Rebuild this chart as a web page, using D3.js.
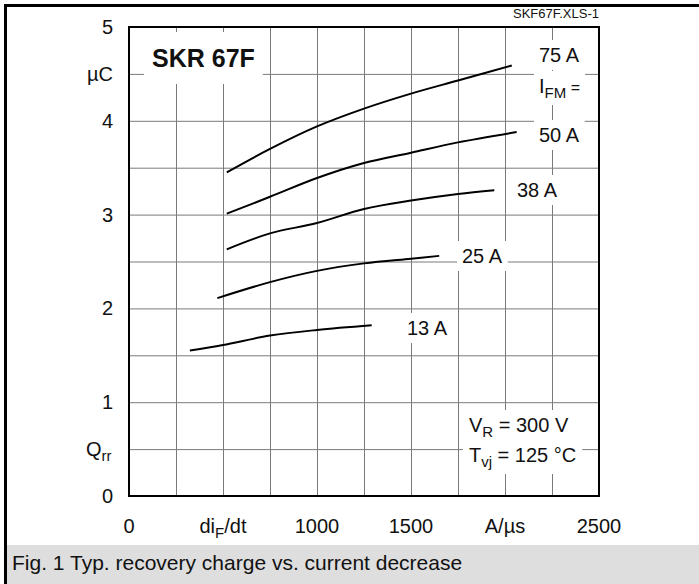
<!DOCTYPE html>
<html>
<head>
<meta charset="utf-8">
<script src="https://cdn.jsdelivr.net/npm/d3@7"></script>
<style>
  body { margin: 0; background: #fff; }
  text { font-family: "Liberation Sans", Arial, sans-serif; fill: #111; }
</style>
</head>
<body>
<div id="chart"></div>
<script>
// ---- data (x in A/us, y in uC) ----
var seriesNames = ["75 A", "50 A", "38 A", "25 A", "13 A"];
var didt75 = [520, 750, 1000, 1250, 1500, 1750, 2036];
var qrr75  = [3.45, 3.70, 3.94, 4.13, 4.29, 4.43, 4.59];
var didt50 = [520, 750, 1000, 1250, 1500, 1750, 2062];
var qrr50  = [3.01, 3.19, 3.39, 3.55, 3.66, 3.77, 3.88];
var didt38 = [520, 750, 1000, 1250, 1500, 1750, 1943];
var qrr38  = [2.63, 2.80, 2.91, 3.06, 3.15, 3.22, 3.26];
var didt25 = [470, 750, 1000, 1250, 1500, 1650];
var qrr25  = [2.11, 2.28, 2.40, 2.48, 2.53, 2.56];
var didt13 = [324, 500, 750, 1000, 1291];
var qrr13  = [1.55, 1.61, 1.71, 1.77, 1.82];

var xTicks = [0, 1000, 1500, 2500];
var yTicks = [0, 1, 2, 3, 4, 5];

var allSeries = [
  {name: seriesNames[0], x: didt75, y: qrr75},
  {name: seriesNames[1], x: didt50, y: qrr50},
  {name: seriesNames[2], x: didt38, y: qrr38},
  {name: seriesNames[3], x: didt25, y: qrr25},
  {name: seriesNames[4], x: didt13, y: qrr13}
];

// ---- layout ----
var W = 699, H = 584;
var plot = {left: 129, top: 27, right: 599, bottom: 496};

var svg = d3.select("#chart").append("svg")
  .attr("width", W).attr("height", H);

var x = d3.scaleLinear().domain([0, 2500]).range([plot.left, plot.right]);
var y = d3.scaleLinear().domain([0, 5]).range([plot.bottom, plot.top]);

// outer frame + caption band
svg.append("rect").attr("x", 7).attr("y", 545).attr("width", W - 7).attr("height", H - 545)
  .attr("fill", "#dedede");
svg.append("line").attr("x1", 4).attr("x2", W).attr("y1", 5.5).attr("y2", 5.5)
  .attr("stroke", "#000").attr("stroke-width", 3);
svg.append("line").attr("x1", 5.5).attr("x2", 5.5).attr("y1", 4).attr("y2", H)
  .attr("stroke", "#000").attr("stroke-width", 3);
svg.append("text").attr("x", 12).attr("y", 570)
  .style("font-size", "21px")
  .text("Fig. 1 Typ. recovery charge vs. current decrease");

// grid
var grid = svg.append("g");
grid.append("g")
  .attr("transform", "translate(0," + plot.bottom + ")")
  .call(d3.axisBottom(x).tickValues(d3.range(250, 2500, 250)).tickSize(-(plot.bottom - plot.top)).tickFormat(""))
  .call(function(g) { g.select(".domain").remove(); });
grid.append("g")
  .attr("transform", "translate(" + plot.left + ",0)")
  .call(d3.axisLeft(y).tickValues(d3.range(0.5, 5, 0.5)).tickSize(-(plot.right - plot.left)).tickFormat(""))
  .call(function(g) { g.select(".domain").remove(); });
grid.selectAll(".tick line").attr("stroke", "#7a7a7a").attr("stroke-width", 1);

var maskLayer = svg.append("g");

svg.append("rect")
  .attr("x", plot.left).attr("y", plot.top)
  .attr("width", plot.right - plot.left).attr("height", plot.bottom - plot.top)
  .attr("fill", "none").attr("stroke", "#000").attr("stroke-width", 2);

// curves
var line = d3.line()
  .x(function(d) { return x(d[0]); })
  .y(function(d) { return y(d[1]); })
  .curve(d3.curveCatmullRom.alpha(0.5));

svg.append("g").selectAll("path")
  .data(allSeries)
  .enter().append("path")
  .attr("d", function(s) { return line(s.x.map(function(v, i) { return [v, s.y[i]]; })); })
  .attr("fill", "none").attr("stroke", "#000").attr("stroke-width", 2);

// axis labels
svg.append("g").selectAll("text")
  .data(yTicks).enter().append("text")
  .attr("x", 113).attr("y", function(d) { return y(d); }).attr("dy", "0.35em")
  .attr("text-anchor", "end").style("font-size", "20px")
  .text(function(d) { return d; });
svg.append("text").attr("x", 113).attr("y", y(4.5)).attr("dy", "0.35em")
  .attr("text-anchor", "end").style("font-size", "20px").text("\u00b5C");
var qt = svg.append("text").attr("x", 86).attr("y", y(0.5)).attr("dy", "0.35em")
  .style("font-size", "20px");
qt.append("tspan").text("Q");
qt.append("tspan").attr("dy", 5).style("font-size", "15px").text("rr");

svg.append("g").selectAll("text")
  .data(xTicks).enter().append("text")
  .attr("x", function(d) { return x(d); }).attr("y", 533)
  .attr("text-anchor", "middle").style("font-size", "20px")
  .text(function(d) { return d; });
var dt = svg.append("text").attr("x", x(500)).attr("y", 533)
  .attr("text-anchor", "middle").style("font-size", "20px");
dt.append("tspan").text("di");
dt.append("tspan").attr("dy", 5).style("font-size", "15px").text("F");
dt.append("tspan").attr("dy", -5).text("/dt");
svg.append("text").attr("x", x(2000)).attr("y", 533)
  .attr("text-anchor", "middle").style("font-size", "20px").text("A/\u00b5s");

svg.append("text").attr("x", 599).attr("y", 18)
  .attr("text-anchor", "end").style("font-size", "13px").text("SKF67F.XLS-1");

// in-plot annotations, each with a white patch that breaks the grid
var annots = [];
function annot(px, py, size, parts, bold, pad) {
  var t = svg.append("text").attr("x", px).attr("y", py)
    .style("font-size", size + "px").style("font-weight", bold ? "bold" : "normal");
  parts.forEach(function(p) {
    var ts = t.append("tspan").text(p[0]);
    if (p[1]) ts.attr("dy", p[1]);
    if (p[2]) ts.style("font-size", p[2] + "px");
  });
  annots.push({node: t.node(), pad: pad || [5, 4]});
}
annot(152, 67, 25, [["SKR 67F"]], true, [8, 12]);
annot(539, 62, 20, [[seriesNames[0]]]);
annot(539, 93, 20, [["I"], ["FM", 5, 15], [" =", -5, 16]], false, [5, 4]);
annot(539, 142, 20, [[seriesNames[1]]]);
annot(517, 197, 20, [[seriesNames[2]]]);
annot(462, 263, 20, [[seriesNames[3]]]);
annot(407, 335, 20, [[seriesNames[4]]]);
annot(469, 432, 20, [["V"], ["R", 5, 15], [" = 300 V", -5]], false, [6, 4]);
annot(469, 462, 20, [["T"], ["vj", 5, 15], [" = 125 \u00b0C", -5]], false, [6, 4]);

annots.forEach(function(a) {
  var b = a.node.getBBox();
  maskLayer.append("rect")
    .attr("x", b.x - a.pad[0]).attr("y", b.y - a.pad[1])
    .attr("width", b.width + 2 * a.pad[0]).attr("height", b.height + 2 * a.pad[1])
    .attr("fill", "#fff");
});
</script>
</body>
</html>
